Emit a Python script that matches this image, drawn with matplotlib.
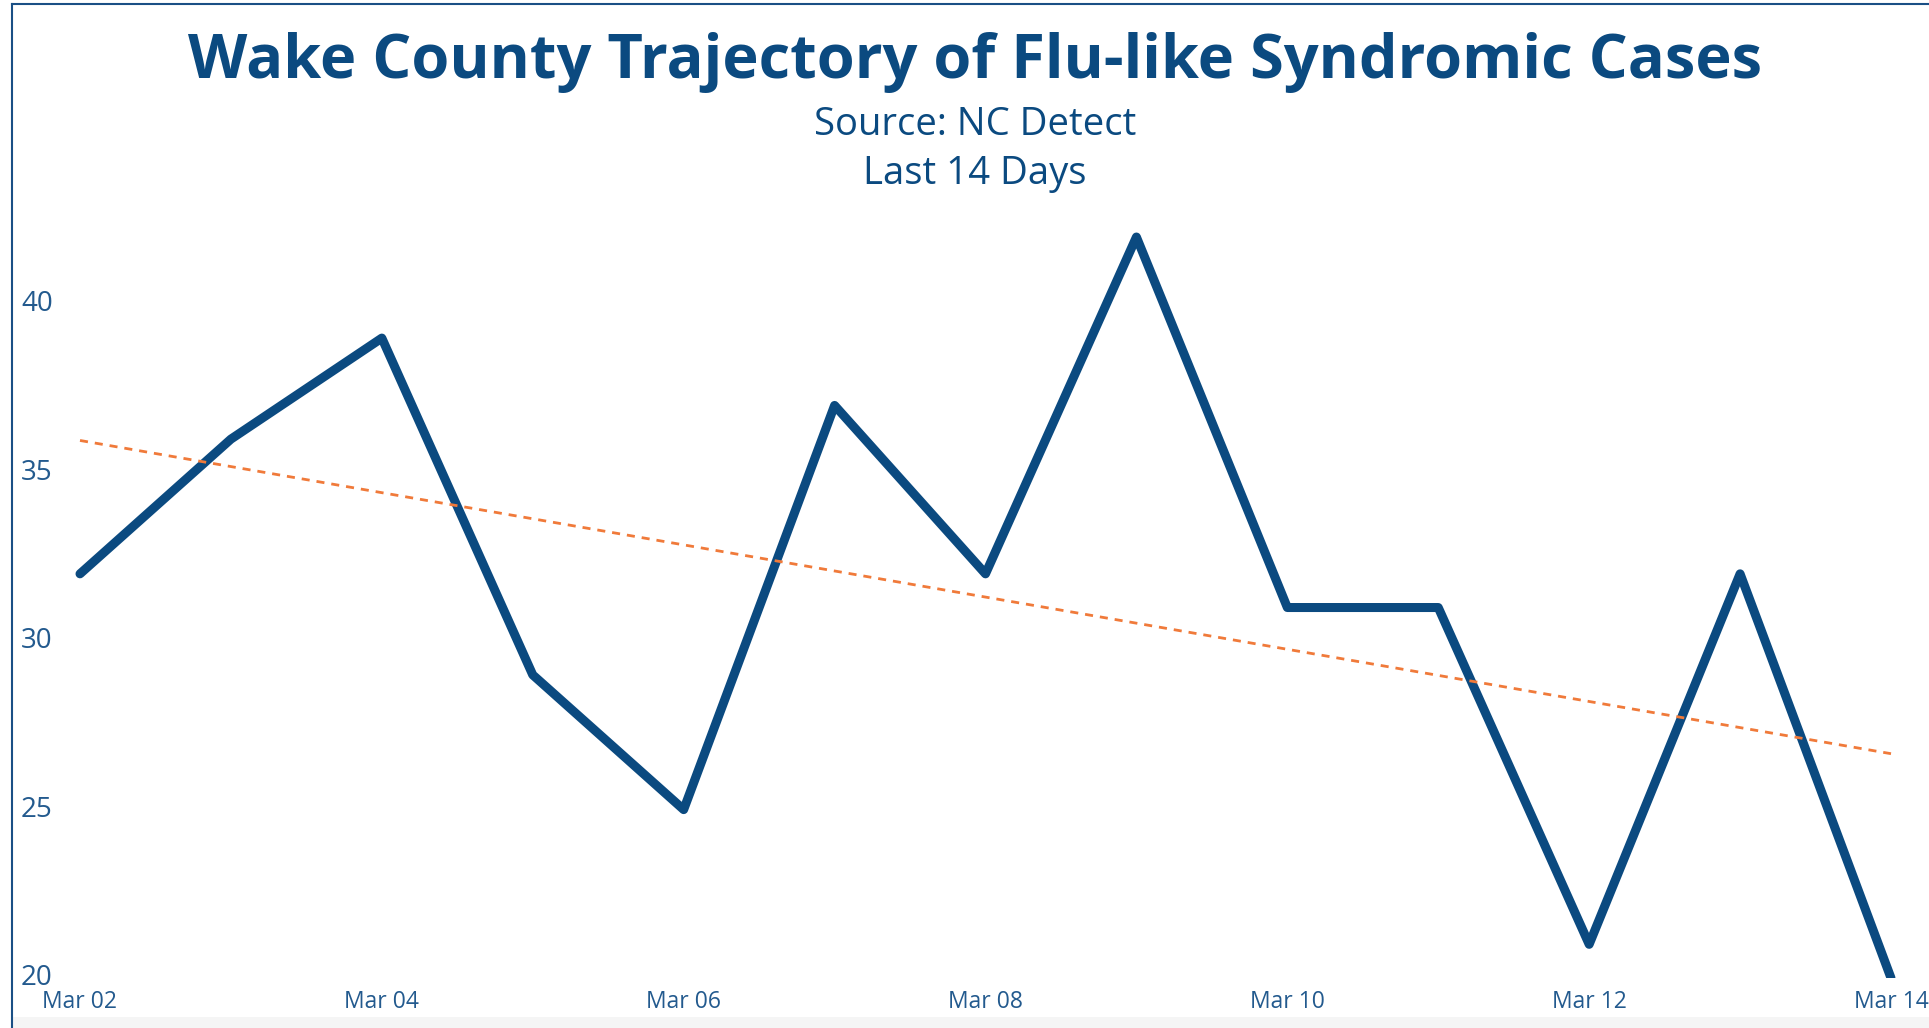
import matplotlib.pyplot as plt
import matplotlib.dates as mdates
import numpy as np
from matplotlib.lines import Line2D
from matplotlib.patches import Rectangle

plt.rcParams['font.family'] = ['Open Sans', 'DejaVu Sans']

# daily counts, Mar 02 .. Mar 14
dates = np.arange(np.datetime64('2020-03-02'), np.datetime64('2020-03-15'))
cases = [32, 36, 39, 29, 25, 37, 32, 42, 31, 31, 21, 32, 20]

# trend line end points
trend_dates = [np.datetime64('2020-03-02'), np.datetime64('2020-03-14')]
trend_values = [35.96, 26.66]

y_ticks = [20, 25, 30, 35, 40]

dark_blue = '#0b4a80'
tick_blue = '#235a8e'
orange = '#f07a3a'

W, H = 1929, 1028
fig = plt.figure(figsize=(W / 100, H / 100), dpi=100)

# axes box in pixels: Mar 02 at x=80, Mar 14 at x=1891, y=20 at 978
ax_left, ax_right = 14, W
ax_bottom, ax_top = 978, 215
ax = fig.add_axes([ax_left / W, 1 - ax_bottom / H,
                   (ax_right - ax_left) / W, (ax_bottom - ax_top) / H])

ax.plot(dates, cases, color=dark_blue, lw=6.5,
        solid_capstyle='round', solid_joinstyle='round', zorder=2)
ax.plot(trend_dates, trend_values, color=orange, lw=2,
        dashes=(2.9, 2.5), zorder=3)

# keep data points at their pixel positions
x0 = mdates.date2num(dates[0])
x1 = mdates.date2num(dates[-1])
per_px = (x1 - x0) / (1891 - 80)
ax.set_xlim(x0 - (80 - ax_left) * per_px, x1 + (ax_right - 1891) * per_px)
y_per_px = 1 / 33.68
ax.set_ylim(20, 20 + (ax_bottom - ax_top) * y_per_px)

ax.set_xticks(dates[::2])
ax.xaxis.set_major_formatter(mdates.DateFormatter('%b %d'))
ax.set_yticks(y_ticks)

for s in ax.spines.values():
    s.set_visible(False)
ax.tick_params(axis='x', length=0, pad=8.5, labelsize=16.5, labelcolor=tick_blue)
ax.tick_params(axis='y', length=0, pad=-5, labelsize=20, labelcolor=tick_blue)
for lab in ax.get_yticklabels():
    lab.set_horizontalalignment('left')
    lab.set_verticalalignment('center')

# titles
cx = 975 / W
fig.text(cx, 1 - 78 / H, 'Wake County Trajectory of Flu-like Syndromic Cases',
         ha='center', va='baseline', fontsize=44.2, fontweight='bold', color=dark_blue)
fig.text(cx, 1 - 135 / H, 'Source: NC Detect', ha='center', va='baseline',
         fontsize=27.5, color=dark_blue)
fig.text(cx, 1 - 184 / H, 'Last 14 Days', ha='center', va='baseline',
         fontsize=27.5, color=dark_blue)

# frame and bottom strip
fig.add_artist(Rectangle((12 / W, 0), 1, 11 / H, transform=fig.transFigure,
                         facecolor='#f5f5f5', edgecolor='none', zorder=0))
fig.add_artist(Line2D([12 / W, 12 / W], [0, 1 - 4 / H], color='#1a4f85', lw=1.5))
fig.add_artist(Line2D([12 / W, 1], [1 - 4 / H, 1 - 4 / H], color='#1a4f85', lw=1.5))

fig.savefig('out.png', dpi=100)
